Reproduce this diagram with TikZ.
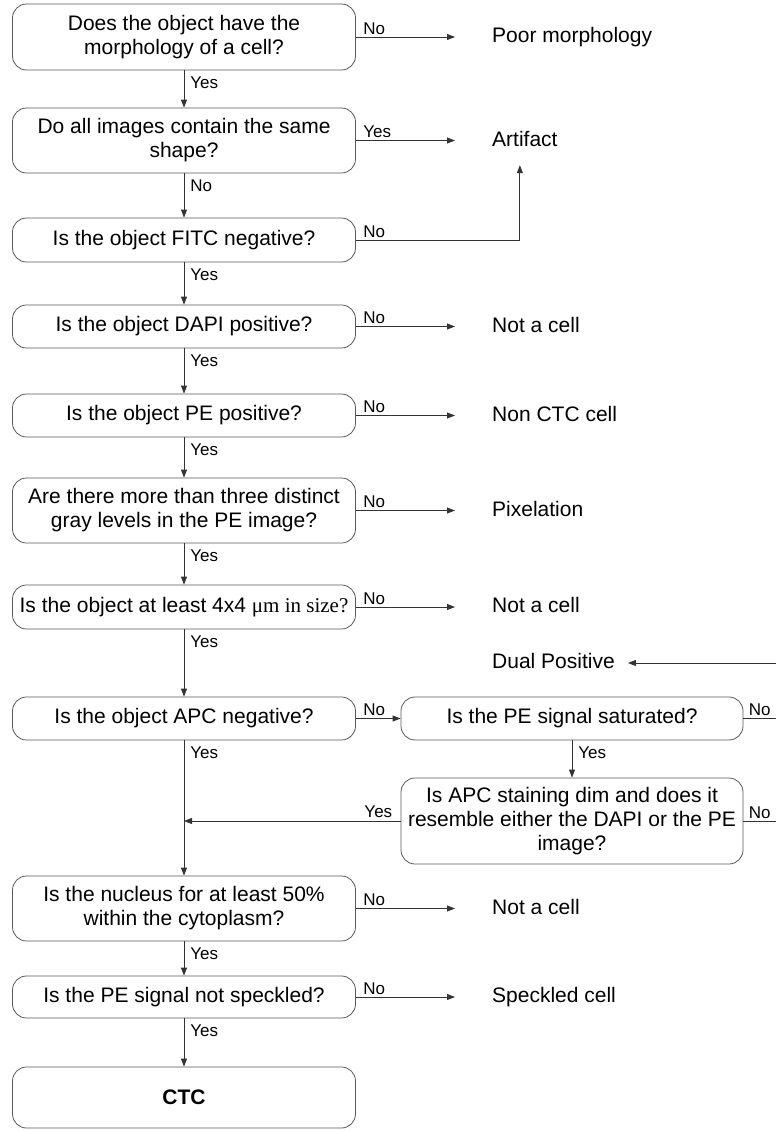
\documentclass[tikz,border=0pt]{standalone}
\usepackage{fontspec}
\setmainfont{Liberation Sans}
\newfontfamily\serifmu{Liberation Serif}
\usetikzlibrary{arrows.meta}
\begin{document}
\begin{tikzpicture}[x=1pt,y=-1pt,
  qbox/.style={draw=black!65, line width=0.8pt, rounded corners=14pt, minimum width=343pt,
    inner xsep=2pt, inner ysep=0pt, align=center, font=\fontsize{21}{24}\selectfont},
  outc/.style={anchor=west, inner sep=0pt, text height=15pt, text depth=4pt,
    font=\fontsize{21}{24}\selectfont},
  lbl/.style={inner sep=0pt, font=\fontsize{17}{19}\selectfont},
  arr/.style={draw=black!80, line width=0.8pt, -{Triangle[length=8pt,width=6pt]}},
  ln/.style={draw=black!80, line width=0.8pt},
  nolbl/.style={lbl, pos=0, anchor=south west, xshift=7pt, yshift=2pt},
  downlbl/.style={lbl, pos=0, anchor=north west, xshift=6pt, yshift=-6pt}
]
\useasboundingbox (0,0) rectangle (776,1130);

% main column
\node[qbox, minimum height=66pt] (q1) at (184,37) {Does the object have the\\morphology of a cell?};
\node[qbox, minimum height=65pt] (q2) at (184,140.5) {Do all images contain the same\\shape?};
\node[qbox, minimum height=44pt] (q3) at (184,240) {Is the object FITC negative?};
\node[qbox, minimum height=43pt] (q4) at (184,326.5) {Is the object DAPI positive?};
\node[qbox, minimum height=43pt] (q5) at (184,415.5) {Is the object PE positive?};
\node[qbox, minimum height=65pt] (q6) at (184,510.5) {Are there more than three distinct\\gray levels in the PE image?};
\node[qbox, minimum height=44pt] (q7) at (184,607) {Is the object at least 4x4 {\serifmu μm in size?}};
\node[qbox, minimum height=43pt] (q8) at (184,718.5) {Is the object APC negative?};
\node[qbox, minimum height=65pt] (q9) at (184,908.5) {Is the nucleus for at least 50\%\\within the cytoplasm?};
\node[qbox, minimum height=42pt] (q10) at (184,997) {Is the PE signal not speckled?};
\node[qbox, minimum height=61pt, font=\fontsize{21}{24}\selectfont\bfseries] (q11) at (184,1097.5) {CTC};

% right column boxes
\node[qbox, minimum width=342pt, minimum height=43pt] (s1) at (572,718.5) {Is the PE signal saturated?};
\node[qbox, minimum width=342pt, minimum height=86pt] (s2) at (572,821) {Is APC staining dim and does it\\resemble either the DAPI or the PE\\image?};

% outcomes
\node[outc] (o1) at (492,37) {Poor morphology};
\node[outc] (o2) at (492,140.5) {Artifact};
\node[outc] (o4) at (492,326.5) {Not a cell};
\node[outc] (o5) at (492,415.5) {Non CTC cell};
\node[outc] (o6) at (492,510.5) {Pixelation};
\node[outc] (o7) at (492,607) {Not a cell};
\node[outc] (dp) at (492,663) {Dual Positive};
\node[outc] (o9) at (492,908.5) {Not a cell};
\node[outc] (o10) at (492,997) {Speckled cell};

\coordinate (dpR) at (776,663);
\coordinate (s1R) at (776,718.5);
\coordinate (s2R) at (776,821);
\coordinate (m) at (q8.south |- s2.west);

% vertical flow
\draw[arr] (q1) -- (q2) node[downlbl] {Yes};
\draw[arr] (q2) -- (q3) node[downlbl] {No};
\draw[arr] (q3) -- (q4) node[downlbl] {Yes};
\draw[arr] (q4) -- (q5) node[downlbl] {Yes};
\draw[arr] (q5) -- (q6) node[downlbl] {Yes};
\draw[arr] (q6) -- (q7) node[downlbl] {Yes};
\draw[arr] (q7) -- (q8) node[downlbl] {Yes};
\draw[arr] (q8) -- (q9) node[downlbl] {Yes};
\draw[arr] (q9) -- (q10) node[downlbl] {Yes};
\draw[arr] (q10) -- (q11) node[downlbl] {Yes};
\draw[arr] (s1) -- (s2) node[downlbl] {Yes};

% side branches
\draw[arr, shorten >=37pt] (q1.east) -- (o1.west) node[nolbl] {No};
\draw[arr, shorten >=37pt] (q2.east) -- (o2.west) node[nolbl] {Yes};
\draw[arr, shorten >=15pt] (q3.east) -| ([xshift=-5pt]o2.south) node[nolbl] {No};
\draw[arr, shorten >=37pt] (q4.east) -- (o4.west) node[nolbl] {No};
\draw[arr, shorten >=37pt] (q5.east) -- (o5.west) node[nolbl] {No};
\draw[arr, shorten >=37pt] (q6.east) -- (o6.west) node[nolbl] {No};
\draw[arr, shorten >=37pt] (q7.east) -- (o7.west) node[nolbl] {No};
\draw[arr, shorten >=37pt] (q9.east) -- (o9.west) node[nolbl] {No};
\draw[arr, shorten >=37pt] (q10.east) -- (o10.west) node[nolbl] {No};
\draw[arr] (q8.east) -- (s1.west) node[nolbl] {No};
\draw[arr, shorten >=13pt] (dpR) -- (dp.east);
\draw[ln] (s1.east) -- (s1R) node[lbl, pos=0, anchor=south west, xshift=5pt, yshift=2pt] {No};
\draw[ln] (s2.east) -- (s2R) node[lbl, pos=0, anchor=south west, xshift=5pt, yshift=2pt] {No};
\draw[arr] (s2.west) -- (m) node[lbl, pos=0, anchor=south east, xshift=-8pt, yshift=3pt] {Yes};
\end{tikzpicture}
\end{document}
